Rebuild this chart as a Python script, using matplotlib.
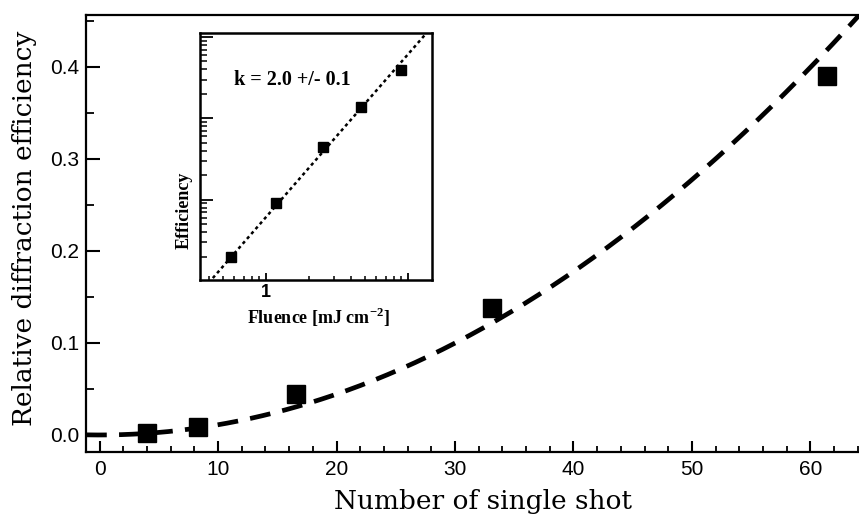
import numpy as np
import matplotlib
matplotlib.use("Agg")
import matplotlib.pyplot as plt
from matplotlib.ticker import MultipleLocator, FixedLocator, FixedFormatter, NullFormatter, LogLocator

# ---- data ----
shots = [4.0, 8.3, 16.6, 33.1, 61.4]
efficiency = [0.002, 0.009, 0.045, 0.138, 0.390]
fluence = [0.57, 1.18, 2.52, 4.67, 8.9]
fit_main_coeff = 1.11e-4      # dashed quadratic fit in the main panel
fit_inset_coeff = 6.1e-3      # dotted power-law fit in the inset
fit_exponent = 2.0
x_ticks = [0, 10, 20, 30, 40, 50, 60]
y_ticks = [0.0, 0.1, 0.2, 0.3, 0.4]
inset_text = "k = 2.0 +/- 0.1"

W, H = 859, 521
fig = plt.figure(figsize=(W / 100, H / 100), dpi=100)

def fx(px):
    return px / W

def fy(py):
    return 1 - py / H

# main axes
ax = fig.add_axes([fx(86), fy(452), fx(859) - fx(86) + 0.01, fy(15) - fy(452)])
xmin, xmax = -1.15, 64.1 + 0.01 * W / 11.84
ax.set_xlim(xmin, xmax)
ax.set_ylim(-0.0185, 0.4565)
ax.spines['right'].set_visible(False)
for s in ['left', 'bottom', 'top']:
    ax.spines[s].set_linewidth(1.6)

xx = np.linspace(xmin, xmax, 400)
ax.plot(xx, fit_main_coeff * xx ** fit_exponent, color='black', lw=3.4,
        dashes=(4.4, 2.6), solid_capstyle='butt', dash_capstyle='butt', zorder=2)
ax.plot(shots, efficiency, 's', color='black', markersize=12.5, zorder=3)

ax.set_xticks(x_ticks)
ax.xaxis.set_minor_locator(MultipleLocator(2))
ax.set_yticks(y_ticks)
ax.set_yticklabels([f"{v:.1f}" for v in y_ticks])
ax.yaxis.set_minor_locator(MultipleLocator(0.05))
ax.tick_params(axis='x', which='major', direction='in', length=8, width=1.5,
               labelsize=15, pad=6, top=False)
ax.tick_params(axis='x', which='minor', direction='in', length=4.5, width=1.3, top=False)
ax.tick_params(axis='y', which='major', direction='in', length=10, width=1.5,
               labelsize=15, pad=5, right=False)
ax.tick_params(axis='y', which='minor', direction='in', length=6, width=1.3, right=False)
for lab in ax.get_xticklabels() + ax.get_yticklabels():
    lab.set_family('Liberation Sans')

fig.text(fx(483), fy(501), "Number of single shot", family='DejaVu Serif',
         fontsize=19, ha='center', va='center')
fig.text(fx(25), fy(228), "Relative diffraction efficiency", family='DejaVu Serif',
         fontsize=19, ha='center', va='center', rotation=90)

# inset
ins = fig.add_axes([fx(200), fy(280), fx(432) - fx(200), fy(33) - fy(280)])
ins.set_xscale('log')
ins.set_yscale('log')
ins.set_xlim(0.343, 14.8)
ins.set_ylim(1.03e-3, 1.12)
for s in ins.spines.values():
    s.set_linewidth(1.8)
fx_line = np.logspace(np.log10(0.343), np.log10(14.8), 200)
ins.plot(fx_line, fit_inset_coeff * fx_line ** fit_exponent, color='black', lw=1.8,
         dashes=(1.3, 1.3))
ins.plot(fluence, efficiency, 's', color='black', markersize=6.5)
ins.xaxis.set_major_locator(FixedLocator([1, 10]))
ins.xaxis.set_major_formatter(FixedFormatter(["1", ""]))
ins.xaxis.set_minor_locator(LogLocator(base=10, subs=np.arange(2, 10), numticks=20))
ins.xaxis.set_minor_formatter(NullFormatter())
ins.yaxis.set_major_locator(LogLocator(base=10, numticks=10))
ins.yaxis.set_minor_locator(LogLocator(base=10, subs=np.arange(2, 10), numticks=20))
ins.yaxis.set_major_formatter(NullFormatter())
ins.yaxis.set_minor_formatter(NullFormatter())
ins.tick_params(axis='x', which='major', direction='in', length=5, width=1.3,
                labelsize=13, pad=3, top=False)
ins.tick_params(axis='x', which='minor', direction='in', length=3, width=1.1, top=False)
ins.tick_params(axis='y', which='major', direction='in', length=9, width=1.3, right=False)
ins.tick_params(axis='y', which='minor', direction='in', length=5, width=1.1, right=False)
for lab in ins.get_xticklabels():
    lab.set_family('Liberation Sans')
    lab.set_fontweight('bold')

fig.text(fx(292), fy(80), inset_text, family='Liberation Serif', fontweight='bold',
         fontsize=14.5, ha='center', va='center')
fig.text(fx(184), fy(210), "Efficiency", family='Liberation Serif', fontweight='bold',
         fontsize=13, ha='center', va='center', rotation=90)
fig.text(fx(318), fy(317), "Fluence [mJ cm$^{\\mathregular{-2}}$]", family='Liberation Serif',
         fontweight='bold', fontsize=13, ha='center', va='center')

fig.savefig("out.png", dpi=100)
